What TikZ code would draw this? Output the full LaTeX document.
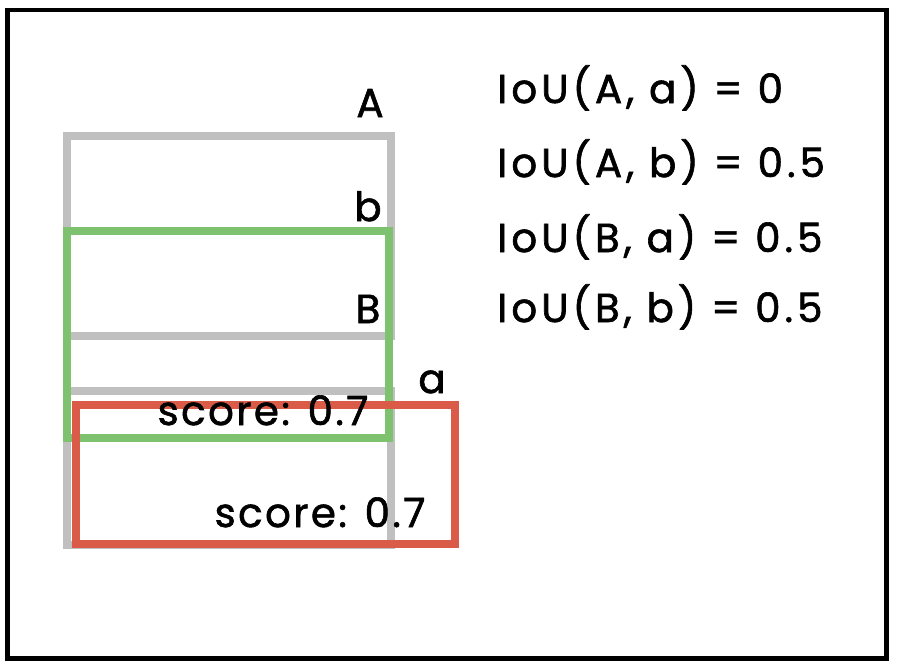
\documentclass[tikz,border=0pt]{standalone}
\usepackage{fontspec}
\setmainfont{Poppins}[LetterSpace=6, FakeBold=1.5]
\definecolor{boxgray}{RGB}{192,192,192}
\definecolor{boxgreen}{RGB}{126,194,112}
\definecolor{boxred}{RGB}{218,92,72}
\tikzset{
  graybox/.style={draw=boxgray, line width=4.8pt},
  greenbox/.style={draw=boxgreen, line width=4.8pt},
  redbox/.style={draw=boxred, line width=4.8pt},
  lbl/.style={anchor=base, inner sep=0pt, font=\fontsize{23}{27}\selectfont},
  iou/.style={anchor=base west, inner sep=0pt, font=\fontsize{23}{27}\selectfont\addfontfeatures{LetterSpace=10}}
}
\begin{document}
\begin{tikzpicture}[x=0.02cm, y=-0.02cm]
\useasboundingbox (0,0) rectangle (898,670);
\draw[line width=2.8pt] (7.5,10) rectangle (886.5,658.5);
% ground truth boxes
\draw[graybox] (67,136) rectangle (391,336);
\draw[graybox] (67,391) rectangle (391,545);
% predictions
\draw[greenbox] (67,231) rectangle (389,438);
\draw[redbox] (76,405) rectangle (455,544);
% box labels
\node[lbl] (labA) at (370,117) {A};
\node[lbl] (labb) at (368,221) {b};
\node[lbl] (labB) at (368,323) {B};
\node[lbl] (laba) at (432,393) {a};
\node[lbl] (scoreb) at (263,425) {score: 0.7};
\node[lbl] (scorea) at (320,527) {score: 0.7};
% iou values
\node[iou] (iou1) at (497,103) {IoU(A, a) = 0};
\node[iou] (iou2) at (497,177) {IoU(A, b) = 0.5};
\node[iou] (iou3) at (497,252) {IoU(B, a) = 0.5};
\node[iou] (iou4) at (497,322) {IoU(B, b) = 0.5};
\end{tikzpicture}
\end{document}
